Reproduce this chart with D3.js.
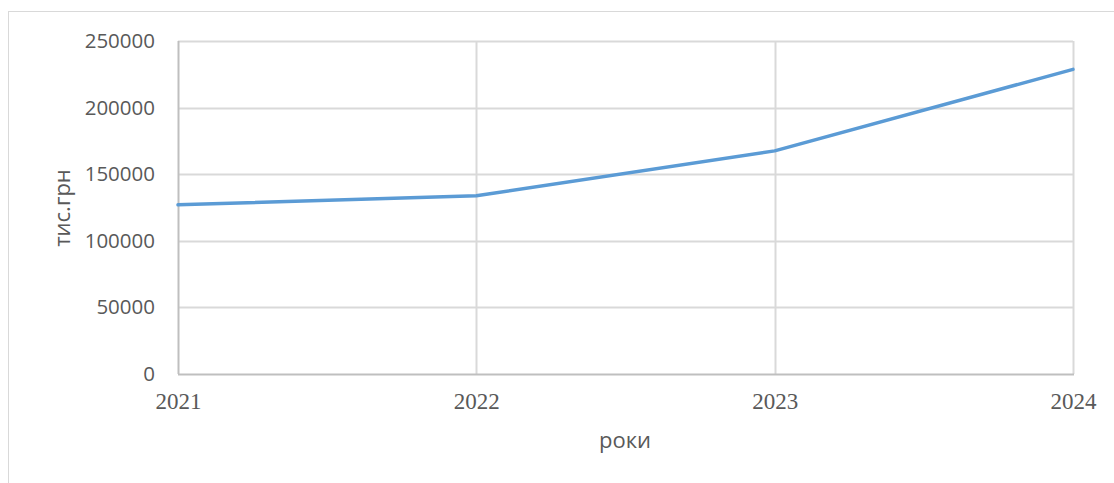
<!DOCTYPE html>
<html>
<head>
<meta charset="utf-8">
<script src="https://cdn.jsdelivr.net/npm/d3@7"></script>
<style>
    body { margin: 0; background: #fff; }
    svg { display: block; }
</style>
</head>
<body>
<svg id="chart" width="1114" height="483"></svg>
<script>
// data
var years = ["2021", "2022", "2023", "2024"];
var values = [127000, 133800, 167500, 228700];
var yTicks = [0, 50000, 100000, 150000, 200000, 250000];

var width = 1114, height = 483;
var margin = {left: 178, top: 41, right: 1114 - 1073, bottom: 483 - 374};

var svg = d3.select("#chart");

// outer frame
svg.append("rect")
    .attr("x", 8.5).attr("y", 11.5)
    .attr("width", 1200).attr("height", 600)
    .attr("fill", "none")
    .attr("stroke", "#d9d9d9")
    .attr("stroke-width", 1);

var x = d3.scalePoint()
    .domain(years)
    .range([margin.left, width - margin.right]);

var y = d3.scaleLinear()
    .domain([0, 250000])
    .range([height - margin.bottom, margin.top]);

// horizontal gridlines
svg.append("g")
    .selectAll("line")
    .data(yTicks.slice(1))
    .enter().append("line")
    .attr("x1", margin.left).attr("x2", width - margin.right)
    .attr("y1", function (d) { return Math.round(y(d)) + 0.5; })
    .attr("y2", function (d) { return Math.round(y(d)) + 0.5; })
    .attr("stroke", "#d9d9d9")
    .attr("stroke-width", 2);

// vertical gridlines
svg.append("g")
    .selectAll("line")
    .data(years.slice(1))
    .enter().append("line")
    .attr("x1", function (d) { return Math.round(x(d)) + 0.5; })
    .attr("x2", function (d) { return Math.round(x(d)) + 0.5; })
    .attr("y1", margin.top).attr("y2", height - margin.bottom)
    .attr("stroke", "#d9d9d9")
    .attr("stroke-width", 2);

// axis lines
svg.append("line")
    .attr("x1", margin.left + 0.5).attr("x2", margin.left + 0.5)
    .attr("y1", margin.top).attr("y2", height - margin.bottom)
    .attr("stroke", "#bfbfbf").attr("stroke-width", 2);
svg.append("line")
    .attr("x1", margin.left).attr("x2", width - margin.right + 1)
    .attr("y1", y(0) + 0.5).attr("y2", y(0) + 0.5)
    .attr("stroke", "#bfbfbf").attr("stroke-width", 2);

// y tick labels
var yAxis = d3.axisLeft(y).tickValues(yTicks).tickSize(0).tickPadding(23)
    .tickFormat(d3.format("d"));
var gy = svg.append("g")
    .attr("transform", "translate(" + margin.left + ",0)")
    .call(yAxis);
gy.select(".domain").remove();
gy.selectAll("text")
    .attr("font-family", "'Open Sans', sans-serif")
    .attr("font-size", 20.5)
    .attr("fill", "#595959");

// x tick labels
var xAxis = d3.axisBottom(x).tickSize(0).tickPadding(19);
var gx = svg.append("g")
    .attr("transform", "translate(0," + y(0) + ")")
    .call(xAxis);
gx.select(".domain").remove();
gx.selectAll("text")
    .attr("font-family", "'Liberation Serif', 'Times New Roman', serif")
    .attr("font-size", 23)
    .attr("fill", "#595959");

// line
var line = d3.line()
    .x(function (d, i) { return x(years[i]); })
    .y(function (d) { return y(d); });

svg.append("path")
    .datum(values)
    .attr("d", line)
    .attr("fill", "none")
    .attr("stroke", "#5b9bd5")
    .attr("stroke-width", 3.5)
    .attr("stroke-linejoin", "round")
    .attr("stroke-linecap", "round");

// axis titles
svg.append("text")
    .attr("transform", "translate(70,208) rotate(-90)")
    .attr("text-anchor", "middle")
    .attr("font-family", "'Open Sans', sans-serif")
    .attr("font-size", 22)
    .attr("fill", "#595959")
    .text("тис.грн");

svg.append("text")
    .attr("x", 625).attr("y", 448)
    .attr("text-anchor", "middle")
    .attr("font-family", "'Open Sans', sans-serif")
    .attr("font-size", 22)
    .attr("fill", "#595959")
    .text("роки");
</script>
</body>
</html>
